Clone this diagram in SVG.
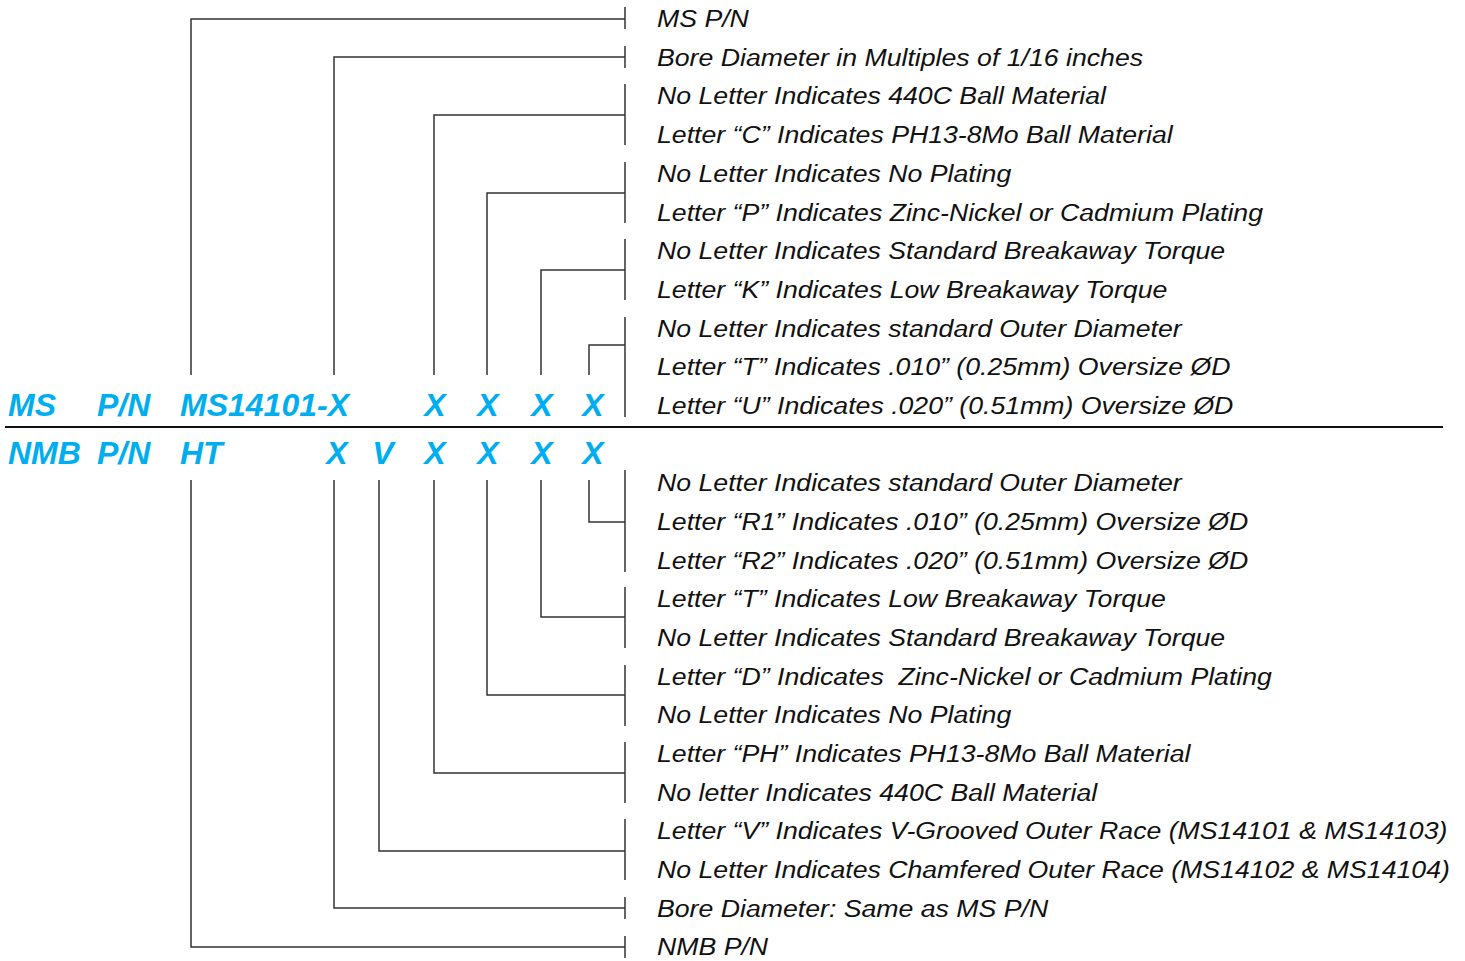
<svg xmlns="http://www.w3.org/2000/svg" width="1465" height="961" viewBox="0 0 1465 961">
<style>
.ln{stroke:#333;stroke-width:1.5;fill:none}
.sep{stroke:#111;stroke-width:2;fill:none}
.t{font-family:"Liberation Sans",Arial,sans-serif;font-style:italic;font-size:24.3px;fill:#111}
.b{font-family:"Liberation Sans",Arial,sans-serif;font-style:italic;font-weight:bold;font-size:32px;fill:#00AEEF}
.c{text-anchor:middle}
</style>
<rect width="1465" height="961" fill="#fff"/>
<g id="connectors">
<line class="sep" x1="5" y1="427" x2="1443" y2="427"/>
<path class="ln" d="M191 375V19H625 M625 7V29"/>
<path class="ln" d="M334 375V57H625 M625 46V68"/>
<path class="ln" d="M434 375V115H625 M625 84V145"/>
<path class="ln" d="M487 375V193H625 M625 162V223"/>
<path class="ln" d="M541 375V270H625 M625 239V300"/>
<path class="ln" d="M589 375V345H625 M625 317V417"/>
<path class="ln" d="M589 480V522H625 M625 470V572"/>
<path class="ln" d="M541 480V617H625 M625 587V648"/>
<path class="ln" d="M487 480V695H625 M625 665V726"/>
<path class="ln" d="M434 480V773H625 M625 742V803"/>
<path class="ln" d="M379 480V851H625 M625 819V880"/>
<path class="ln" d="M334 480V908H625 M625 897V919"/>
<path class="ln" d="M191 480V947H625 M625 936V958"/>
</g>
<g id="ms-code">
<text class="b" x="8" y="416">MS</text>
<text class="b" x="97" y="416">P/N</text>
<text class="b" x="180" y="416">MS14101-X</text>
<text class="b c" x="435" y="416">X</text>
<text class="b c" x="488" y="416">X</text>
<text class="b c" x="542" y="416">X</text>
<text class="b c" x="593" y="416">X</text>
</g>
<g id="nmb-code">
<text class="b" x="8" y="464">NMB</text>
<text class="b" x="97" y="464">P/N</text>
<text class="b" x="180" y="464">HT</text>
<text class="b c" x="337" y="464">X</text>
<text class="b c" x="383" y="464">V</text>
<text class="b c" x="435" y="464">X</text>
<text class="b c" x="488" y="464">X</text>
<text class="b c" x="542" y="464">X</text>
<text class="b c" x="593" y="464">X</text>
</g>
<g id="ms-descriptions" transform="translate(657 0) scale(1.098 1)">
<g id="ms-pn"><text class="t" x="0" y="27">MS P/N</text></g>
<g id="ms-bore"><text class="t" x="0" y="66">Bore Diameter in Multiples of 1/16 inches</text></g>
<g id="ms-ball"><text class="t" x="0" y="104">No Letter Indicates 440C Ball Material</text>
<text class="t" x="0" y="143">Letter “C” Indicates PH13-8Mo Ball Material</text></g>
<g id="ms-plating"><text class="t" x="0" y="182">No Letter Indicates No Plating</text>
<text class="t" x="0" y="221">Letter “P” Indicates Zinc-Nickel or Cadmium Plating</text></g>
<g id="ms-torque"><text class="t" x="0" y="259">No Letter Indicates Standard Breakaway Torque</text>
<text class="t" x="0" y="298">Letter “K” Indicates Low Breakaway Torque</text></g>
<g id="ms-od"><text class="t" x="0" y="337">No Letter Indicates standard Outer Diameter</text>
<text class="t" x="0" y="375">Letter “T” Indicates .010” (0.25mm) Oversize ØD</text>
<text class="t" x="0" y="414">Letter “U” Indicates .020” (0.51mm) Oversize ØD</text></g>
</g>
<g id="nmb-descriptions" transform="translate(657 0) scale(1.098 1)">
<g id="nmb-od"><text class="t" x="0" y="491">No Letter Indicates standard Outer Diameter</text>
<text class="t" x="0" y="530">Letter “R1” Indicates .010” (0.25mm) Oversize ØD</text>
<text class="t" x="0" y="569">Letter “R2” Indicates .020” (0.51mm) Oversize ØD</text></g>
<g id="nmb-torque"><text class="t" x="0" y="607">Letter “T” Indicates Low Breakaway Torque</text>
<text class="t" x="0" y="646">No Letter Indicates Standard Breakaway Torque</text></g>
<g id="nmb-plating"><text class="t" x="0" y="685" xml:space="preserve">Letter “D” Indicates  Zinc-Nickel or Cadmium Plating</text>
<text class="t" x="0" y="723">No Letter Indicates No Plating</text></g>
<g id="nmb-ball"><text class="t" x="0" y="762">Letter “PH” Indicates PH13-8Mo Ball Material</text>
<text class="t" x="0" y="801">No letter Indicates 440C Ball Material</text></g>
<g id="nmb-race"><text class="t" x="0" y="839">Letter “V” Indicates V-Grooved Outer Race (MS14101 &amp; MS14103)</text>
<text class="t" x="0" y="878">No Letter Indicates Chamfered Outer Race (MS14102 &amp; MS14104)</text></g>
<g id="nmb-bore"><text class="t" x="0" y="917">Bore Diameter: Same as MS P/N</text></g>
<g id="nmb-pn"><text class="t" x="0" y="955">NMB P/N</text></g>
</g>
</svg>
